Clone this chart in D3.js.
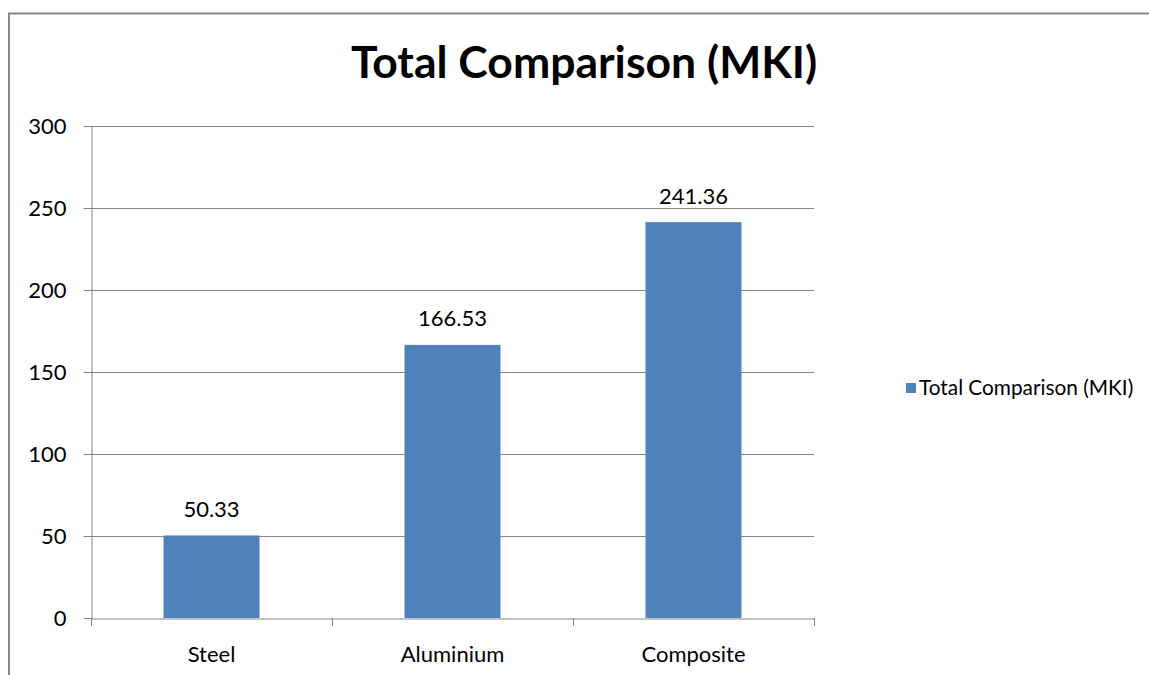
<!DOCTYPE html>
<html><head><meta charset="utf-8">
<script src="https://cdn.jsdelivr.net/npm/d3@7"></script>
<style>body{margin:0;background:#fff;} svg{display:block;} text{font-family:Lato,"Open Sans",sans-serif;}</style>
</head><body>
<svg id="c" width="1149" height="675"></svg>
<script>
const categories = ["Steel", "Aluminium", "Composite"];
const values = [50.33, 166.53, 241.36];
const valueLabels = ["50.33", "166.53", "241.36"];
const yTicks = [0, 50, 100, 150, 200, 250, 300];
const seriesName = "Total Comparison (MKI)";
const title = "Total Comparison (MKI)";

(function(){
const svg = d3.select("#c");
const pLeft = 91, pRight = 814, pTop = 126, pBottom = 618;
const fs = 22;
const xb = d3.scaleBand().domain(categories).range([pLeft, pRight]);
const y = d3.scaleLinear().domain([0, 300]).range([pBottom, pTop]);

// chart border (left and top only visible)
svg.append("path").attr("d", "M9,680 L9,13.5 L1160,13.5").attr("fill","none").attr("stroke","#878787").attr("stroke-width",2);

svg.append("text").attr("x", 584).attr("y", 78).attr("text-anchor","middle")
  .attr("font-size", 44.5).attr("font-weight","bold").attr("fill","#000").text(title);

// gridlines
svg.append("g").selectAll("line").data(yTicks.filter(d=>d>0)).join("line")
  .attr("x1", pLeft).attr("x2", pRight).attr("y1", d=>Math.round(y(d))+0.5).attr("y2", d=>Math.round(y(d))+0.5)
  .attr("stroke","#868686").attr("stroke-width",1);

// y axis
const ya = svg.append("g").attr("transform",`translate(${pLeft+0.5},0)`)
  .call(d3.axisLeft(y).tickValues(yTicks).tickSize(8).tickPadding(17).tickSizeOuter(0));
ya.select(".domain").attr("stroke","#868686");
ya.selectAll(".tick line").attr("stroke","#868686");
ya.selectAll("text").attr("font-size",fs).attr("fill","#000").attr("font-family","Lato");

// bars
svg.append("g").selectAll("rect").data(categories).join("rect")
  .attr("x", d=>xb(d)+xb.bandwidth()/2-48).attr("width", 96)
  .attr("y", (d,i)=>y(values[i])).attr("height",(d,i)=>pBottom-y(values[i]))
  .attr("fill","#4F81BD");

// x axis
const xa = svg.append("g").attr("transform",`translate(0,${pBottom+0.5})`)
  .call(d3.axisBottom(xb).tickSize(0).tickPadding(28).tickSizeOuter(0));
xa.select(".domain").attr("stroke","#868686");
xa.selectAll("text").attr("font-size",fs).attr("fill","#000").attr("font-family","Lato");
svg.append("g").selectAll("line").data([pLeft, pLeft+xb.bandwidth(), pLeft+2*xb.bandwidth(), pRight]).join("line")
  .attr("x1",d=>Math.round(d)+0.5).attr("x2",d=>Math.round(d)+0.5).attr("y1",pBottom).attr("y2",pBottom+8)
  .attr("stroke","#868686");

// data labels
svg.append("g").selectAll("text").data(categories).join("text")
  .attr("x", d=>xb(d)+xb.bandwidth()/2).attr("y",(d,i)=>y(values[i])-18.5)
  .attr("text-anchor","middle").attr("font-size",fs).attr("fill","#000").text((d,i)=>valueLabels[i]);

// legend
const lg = svg.append("g").attr("transform","translate(906,383)");
lg.append("rect").attr("width",10).attr("height",10).attr("fill","#4F81BD");
lg.append("text").attr("x",13).attr("y",12).attr("font-size",20.8).attr("fill","#000").text(seriesName);
})();
</script>
</body></html>
